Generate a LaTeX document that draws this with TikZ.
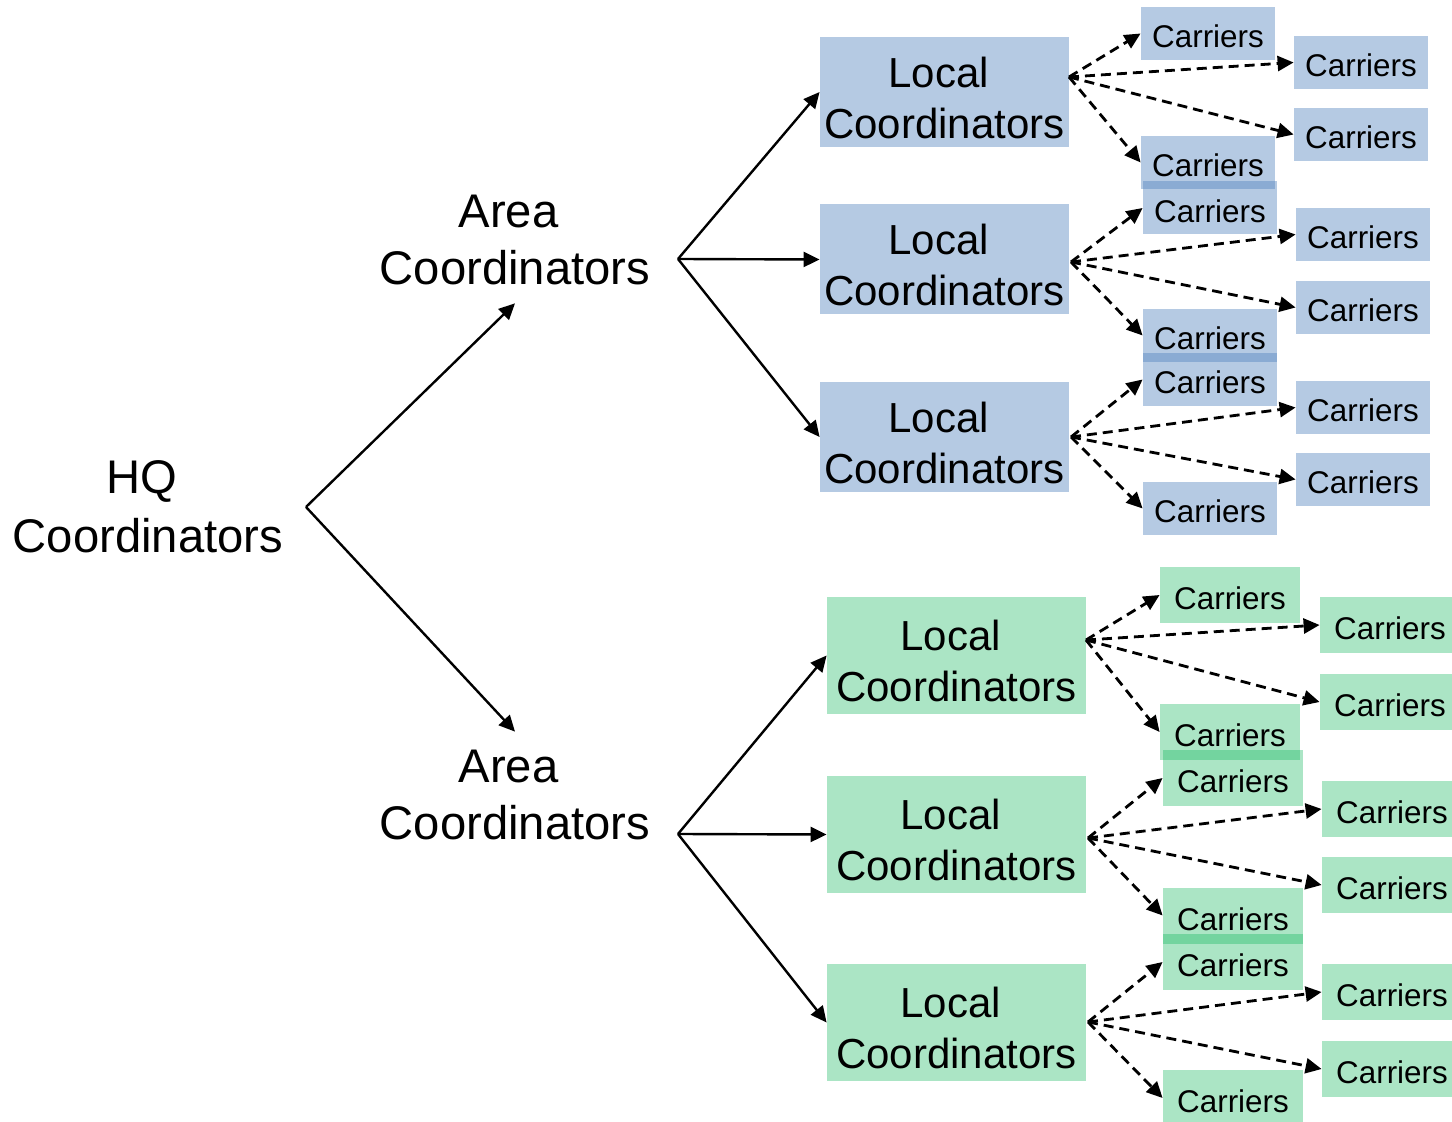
\documentclass[tikz,border=0pt]{standalone}
\usepackage{fontspec}
\setmainfont{Liberation Sans}
\usetikzlibrary{arrows.meta}
\definecolor{areablue}{HTML}{4F81BD}
\definecolor{areagreen}{HTML}{00B050}
% taller first line, pushes the two-line label down in its box
\newcommand{\topstrut}{\rule{0pt}{21pt}}

\begin{document}
\begin{tikzpicture}[
  x=0.5pt, y=-0.5pt,
  title/.style={align=center, inner sep=9pt, font=\fontsize{23.6}{28.5}\selectfont},
  localbox/.style={align=center, inner sep=1pt, font=\fontsize{21}{25.5}\selectfont,
                   minimum width=124.5pt, minimum height=55pt},
  carrier/.style={inner sep=1pt, font=\fontsize{15.7}{18}\selectfont,
                  text height=14.5pt, text depth=0pt,
                  minimum width=67pt, minimum height=26.5pt},
  blue/.style={fill=areablue, fill opacity=0.42, text opacity=1},
  green/.style={fill=areagreen, fill opacity=0.33, text opacity=1,
                minimum width=70pt, minimum height=28pt},
  arr/.style={-{Triangle[length=8pt, width=7.5pt]}, line width=1.2pt},
  darr/.style={arr, line width=1.4pt, dash pattern=on 5pt off 3pt}
]
  \useasboundingbox (0,0) rectangle (1452,1122);

  % HQ -> Area
  \node[title, font=\fontsize{23.6}{29.5}\selectfont] (hq) at (148,507) {HQ\kern0.278em\\Coordinators};
  \node[title] (area1) at (515,240) {Area\kern0.278em\\Coordinators};
  \node[title] (area2) at (515,795) {Area\kern0.278em\\Coordinators};
  \coordinate (hqfork) at (306,507);

  \draw[arr] (hqfork) -- (area1.south);
  \draw[arr] (hqfork) -- (area2.north);

  % Area (top) -> Local
  \node[localbox, blue] (local1) at (944.5,92) {\topstrut Local\kern0.278em\\Coordinators};
  \node[localbox, blue] (local2) at (944.5,259.5) {\topstrut Local\kern0.278em\\Coordinators};
  \node[localbox, blue] (local3) at (944.5,437) {\topstrut Local\kern0.278em\\Coordinators};
  \coordinate (fork1) at (678,259);

  \draw[arr] (fork1) -- (local1.west);
  \draw[arr] (fork1) -- (local2.west);
  \draw[arr] (fork1) -- (local3.west);

  % Area (bottom) -> Local
  \node[localbox, green, minimum width=129.5pt, minimum height=58.5pt] (local4) at (956.5,655.5) {\topstrut Local\kern0.278em\\Coordinators};
  \node[localbox, green, minimum width=129.5pt, minimum height=58.5pt] (local5) at (956.5,834.5) {\topstrut Local\kern0.278em\\Coordinators};
  \node[localbox, green, minimum width=129.5pt, minimum height=58.5pt] (local6) at (956.5,1022.5) {\topstrut Local\kern0.278em\\Coordinators};
  \coordinate (fork2) at (678,834);

  \draw[arr] (fork2) -- (local4.west);
  \draw[arr] (fork2) -- (local5.west);
  \draw[arr] (fork2) -- (local6.west);

  % Local -> Carriers (blue)
  \node[carrier, blue] (c1a) at (1208,33.5) {Carriers};
  \node[carrier, blue] (c1b) at (1361,62.5) {Carriers};
  \node[carrier, blue] (c1c) at (1361,134.5) {Carriers};
  \node[carrier, blue] (c1d) at (1208,162.5) {Carriers};

  \node[carrier, blue] (c2a) at (1210,208) {Carriers};
  \node[carrier, blue] (c2b) at (1363,234.5) {Carriers};
  \node[carrier, blue] (c2c) at (1363,307.5) {Carriers};
  \node[carrier, blue] (c2d) at (1210,335.5) {Carriers};

  \node[carrier, blue] (c3a) at (1210,379.5) {Carriers};
  \node[carrier, blue] (c3b) at (1363,407.5) {Carriers};
  \node[carrier, blue] (c3c) at (1363,479.5) {Carriers};
  \node[carrier, blue] (c3d) at (1210,508.5) {Carriers};

  \coordinate (lf1) at (1069,77);
  \coordinate (lf2) at (1071,262);
  \coordinate (lf3) at (1071,437);

  \foreach \c in {c1a,c1b,c1c,c1d} \draw[darr] (lf1) -- (\c.west);
  \foreach \c in {c2a,c2b,c2c,c2d} \draw[darr] (lf2) -- (\c.west);
  \foreach \c in {c3a,c3b,c3c,c3d} \draw[darr] (lf3) -- (\c.west);

  % Local -> Carriers (green)
  \node[carrier, green] (g1a) at (1230,595) {Carriers};
  \node[carrier, green] (g1b) at (1390,625) {Carriers};
  \node[carrier, green] (g1c) at (1390,702) {Carriers};
  \node[carrier, green] (g1d) at (1230,732) {Carriers};

  \node[carrier, green] (g2a) at (1233,778) {Carriers};
  \node[carrier, green] (g2b) at (1392,809) {Carriers};
  \node[carrier, green] (g2c) at (1392,885) {Carriers};
  \node[carrier, green] (g2d) at (1233,915.5) {Carriers};

  \node[carrier, green] (g3a) at (1233,962) {Carriers};
  \node[carrier, green] (g3b) at (1392,992) {Carriers};
  \node[carrier, green] (g3c) at (1392,1069) {Carriers};
  \node[carrier, green] (g3d) at (1233,1098) {Carriers};

  \coordinate (lf4) at (1086,640);
  \coordinate (lf5) at (1088,838);
  \coordinate (lf6) at (1088,1022);

  \foreach \c in {g1a,g1b,g1c,g1d} \draw[darr] (lf4) -- (\c.west);
  \foreach \c in {g2a,g2b,g2c,g2d} \draw[darr] (lf5) -- (\c.west);
  \foreach \c in {g3a,g3b,g3c,g3d} \draw[darr] (lf6) -- (\c.west);
\end{tikzpicture}
\end{document}
